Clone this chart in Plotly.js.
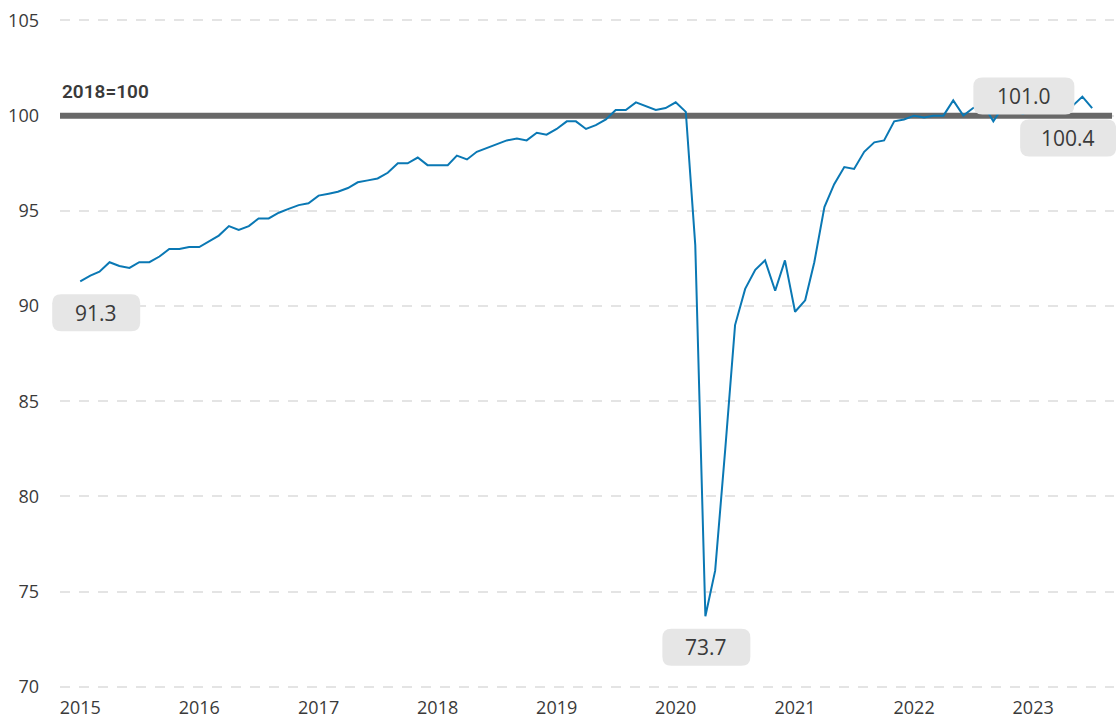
<!DOCTYPE html>
<html>
<head>
<meta charset="utf-8">
<script src="https://cdn.plot.ly/plotly-3.0.1.min.js"></script>
<style>
  html, body { margin: 0; padding: 0; background: #fff; }
  #chart { width: 1116px; height: 718px; }
</style>
</head>
<body>
<div id="chart"></div>
<script>
// ---- Data: monthly index (2018 = 100), Jan 2015 .. Jul 2023 ----
const startYear = 2015;
const values2015 = [91.3, 91.6, 91.8, 92.3, 92.1, 92.0, 92.3, 92.3, 92.6, 93.0, 93.0, 93.1];
const values2016 = [93.1, 93.4, 93.7, 94.2, 94.0, 94.2, 94.6, 94.6, 94.9, 95.1, 95.3, 95.4];
const values2017 = [95.8, 95.9, 96.0, 96.2, 96.5, 96.6, 96.7, 97.0, 97.5, 97.5, 97.8, 97.4];
const values2018 = [97.4, 97.4, 97.9, 97.7, 98.1, 98.3, 98.5, 98.7, 98.8, 98.7, 99.1, 99.0];
const values2019 = [99.3, 99.7, 99.7, 99.3, 99.5, 99.8, 100.3, 100.3, 100.7, 100.5, 100.3, 100.4];
const values2020 = [100.7, 100.2, 93.2, 73.7, 76.1, 82.5, 89.0, 90.9, 91.9, 92.4, 90.8, 92.4];
const values2021 = [89.7, 90.3, 92.3, 95.2, 96.4, 97.3, 97.2, 98.1, 98.6, 98.7, 99.7, 99.8];
const values2022 = [100.0, 99.9, 100.0, 100.0, 100.8, 100.0, 100.4, 100.6, 99.7, 100.5, 100.3, 100.1];
const values2023 = [100.4, 100.6, 100.5, 100.3, 100.5, 101.0, 100.4];

const yTickVals = [70, 75, 80, 85, 90, 95, 100, 105];
const baseValue = 100;
const baseLabel = "2018=100";

// ---- Build series ----
const yearly = [values2015, values2016, values2017, values2018, values2019,
                values2020, values2021, values2022, values2023];
const dates = [];
const values = [];
yearly.forEach((arr, yi) => {
  arr.forEach((v, mi) => {
    const y = startYear + yi;
    const m = String(mi + 1).padStart(2, "0");
    dates.push(`${y}-${m}-01`);
    values.push(v);
  });
});

// indices of labelled points
const iFirst = 0;
const iMin = values.indexOf(Math.min(...values));
const iLast = values.length - 1;
let iMaxRecent = iLast;
for (let i = values.length - 12; i < values.length; i++) {
  if (values[i] > values[iMaxRecent]) iMaxRecent = i;
}

const xRange = ["2014-10-31", "2023-09-06"];
const baseLineEnd = "2023-08-31";
const t0 = Date.parse(xRange[0]), t1 = Date.parse(xRange[1]);
function paperX(d) { return (Date.parse(d) - t0) / (t1 - t0); }

const fontFamily = "'Open Sans', 'Noto Sans', sans-serif";
const textColor = "#3a3a3a";

// rounded rectangle path in pixel offsets (y up)
function roundRect(cx, cy, w, h, r) {
  const x0 = cx - w / 2, x1 = cx + w / 2;
  const y0 = cy - h / 2, y1 = cy + h / 2;
  return `M${x0 + r},${y0} L${x1 - r},${y0} Q${x1},${y0} ${x1},${y0 + r} ` +
         `L${x1},${y1 - r} Q${x1},${y1} ${x1 - r},${y1} ` +
         `L${x0 + r},${y1} Q${x0},${y1} ${x0},${y1 - r} ` +
         `L${x0},${y0 + r} Q${x0},${y0} ${x0 + r},${y0} Z`;
}

// label definitions: point index, pixel offset of box centre, box size
const labels = [
  { i: iFirst,     dx: 16,    dy: -31.5, w: 88,  h: 37 },
  { i: iMin,       dx: 1,     dy: -31,   w: 88,  h: 37 },
  { i: iMaxRecent, dx: -58.5, dy: 0.5,   w: 101, h: 37 },
  { i: iLast,      dx: -24,   dy: -30,   w: 96,  h: 37 }
];

const shapes = [];
const annotations = [
  {
    xref: "paper", x: 0, xanchor: "left",
    yref: "y", y: baseValue, yanchor: "bottom", yshift: 11,
    text: baseLabel, showarrow: false,
    font: { family: "Roboto, 'DejaVu Sans', sans-serif", size: 19, color: "#3a3a3a", weight: 600 }
  }
];

labels.forEach(L => {
  shapes.push({
    type: "path", layer: "above",
    xref: "paper", xsizemode: "pixel", xanchor: paperX(dates[L.i]),
    yref: "y", ysizemode: "pixel", yanchor: values[L.i],
    path: roundRect(L.dx, L.dy, L.w, L.h, 9),
    fillcolor: "#e6e6e6", line: { width: 0 }
  });
  annotations.push({
    x: dates[L.i], y: values[L.i], xref: "x", yref: "y",
    xshift: L.dx, yshift: L.dy,
    text: values[L.i].toFixed(1), showarrow: false,
    xanchor: "center", yanchor: "middle",
    font: { family: fontFamily, size: 21, color: textColor }
  });
});

const baseTrace = {
  type: "scatter", mode: "lines",
  x: [xRange[0], baseLineEnd], y: [baseValue, baseValue],
  line: { color: "#686868", width: 6 },
  hoverinfo: "skip"
};

const trace = {
  type: "scatter", mode: "lines",
  x: dates, y: values,
  line: { color: "#0a78b4", width: 2 },
  hoverinfo: "skip"
};

const layout = {
  width: 1116, height: 718,
  margin: { l: 60, r: 2, t: 10, b: 28 },
  paper_bgcolor: "#ffffff", plot_bgcolor: "#ffffff",
  showlegend: false,
  font: { family: fontFamily, color: textColor, size: 18 },
  xaxis: {
    type: "date",
    range: xRange,
    tick0: "2015-01-01", dtick: "M12", tickformat: "%Y",
    showgrid: false, zeroline: false, showline: false,
    ticks: "", ticklabelstandoff: 5,
    tickfont: { size: 18, color: textColor, family: fontFamily }
  },
  yaxis: {
    range: [69.83, 105.55],
    tickvals: yTickVals,
    showgrid: true, gridcolor: "#e4e4e4", gridwidth: 2, griddash: "10px,9px",
    zeroline: false, showline: false,
    ticks: "", ticklabelstandoff: 20,
    tickfont: { size: 18, color: textColor, family: fontFamily }
  },
  shapes: shapes,
  annotations: annotations
};

Plotly.newPlot("chart", [baseTrace, trace], layout, { displayModeBar: false, staticPlot: true });
</script>
</body>
</html>
